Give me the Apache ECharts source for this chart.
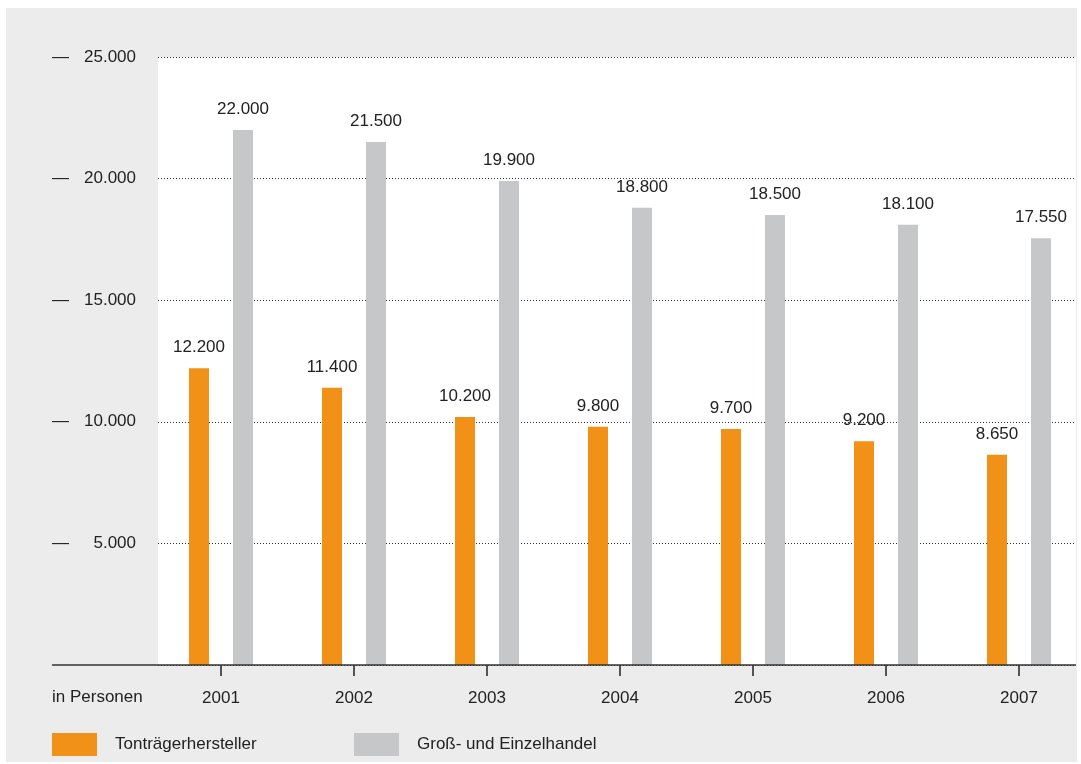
<!DOCTYPE html>
<html>
<head>
<meta charset="utf-8">
<script src="https://cdn.jsdelivr.net/npm/echarts@6/dist/echarts.min.js"></script>
<style>
  html, body { margin: 0; background: #fff; overflow: hidden; }
  #panel { position: absolute; left: 6px; top: 8px; width: 1071px; height: 754px; background: #ececec; }
  #chart { position: absolute; left: 0; top: 0; width: 1092px; height: 764px; }
</style>
</head>
<body>
<div id="panel"></div>
<div id="chart"></div>
<script>
// Daten
const jahre = ['2001', '2002', '2003', '2004', '2005', '2006', '2007'];
const tontraeger = [12200, 11400, 10200, 9800, 9700, 9200, 8650];
const handel = [22000, 21500, 19900, 18800, 18500, 18100, 17550];
const yTicks = [0, 5000, 10000, 15000, 20000, 25000];

const font = 'Liberation Sans';
const txt = '#222';

// 25000 -> "25.000"
function fmt(v) {
    return String(v).replace(/\B(?=(\d{3})+(?!\d))/g, '.');
}

const legendBase = {
    top: 733, padding: 0,
    itemWidth: 45, itemHeight: 23,
    icon: 'rect',
    selectedMode: false,
    textStyle: { fontSize: 17, color: txt, fontFamily: font, padding: [0, 0, 0, 13] }
};

const chart = echarts.init(document.getElementById('chart'));
const option = {
    animation: false,
    textStyle: { fontFamily: font },
    grid: [
        // Balken (div ist etwas breiter als das Bild, damit die Kategorien passen)
        { left: 154.5, right: 6.5, top: 57, bottom: 99, containLabel: false },
        // weisse Flaeche + Gitterlinien
        { left: 158, right: 16, top: 57, bottom: 99, containLabel: false,
          show: true, backgroundColor: '#fff', borderWidth: 0 }
    ],
    xAxis: [
        {
            gridIndex: 0, type: 'category', data: jahre,
            axisLine: { show: false },
            axisTick: { show: true, alignWithLabel: true, length: 11, lineStyle: { color: txt, width: 1.5 } },
            axisLabel: { fontSize: 17, color: txt, margin: 25, fontFamily: font }
        },
        { gridIndex: 1, type: 'value', min: 0, max: 1, show: false }
    ],
    yAxis: [
        { gridIndex: 0, type: 'value', min: yTicks[0], max: yTicks[yTicks.length - 1], interval: 5000, show: false },
        {
            gridIndex: 1, type: 'value', min: yTicks[0], max: yTicks[yTicks.length - 1], interval: 5000,
            axisLine: { show: false },
            axisTick: { show: false },
            splitLine: { show: true, lineStyle: { type: [1, 2], color: '#333', width: 1 } },
            axisLabel: {
                showMinLabel: false, margin: 22,
                formatter: function (v) { return '{d|—}{v|' + fmt(v) + '}'; },
                rich: {
                    d: { width: 31, align: 'left', fontSize: 17, color: txt, fontFamily: font },
                    v: { width: 53, align: 'right', fontSize: 17, color: txt, fontFamily: font }
                }
            }
        }
    ],
    legend: [
        Object.assign({ left: 52, data: ['Tonträgerhersteller'] }, legendBase),
        Object.assign({ left: 354, data: ['Groß- und Einzelhandel'] }, legendBase)
    ],
    series: [
        {
            name: 'Tonträgerhersteller', type: 'bar', data: tontraeger,
            xAxisIndex: 0, yAxisIndex: 0,
            barWidth: 20, barGap: '120%',
            itemStyle: { color: '#f29117' },
            label: { show: true, position: 'top', distance: 12, fontSize: 17, color: txt, fontFamily: font,
                     formatter: p => fmt(p.value) }
        },
        {
            name: 'Groß- und Einzelhandel', type: 'bar', data: handel,
            xAxisIndex: 0, yAxisIndex: 0,
            barWidth: 20, barGap: '120%',
            itemStyle: { color: '#c6c7c9' },
            label: { show: true, position: 'top', distance: 12, fontSize: 17, color: txt, fontFamily: font,
                     formatter: p => fmt(p.value) }
        }
    ],
    graphic: [
        { type: 'line', z: 10, shape: { x1: 52, y1: 665, x2: 1076, y2: 665 },
          style: { stroke: '#333', lineWidth: 1.5 } },
        { type: 'text', left: 52, top: 689,
          style: { text: 'in Personen', fontSize: 17, fill: txt, fontFamily: font } }
    ]
};
chart.setOption(option);
</script>
</body>
</html>
